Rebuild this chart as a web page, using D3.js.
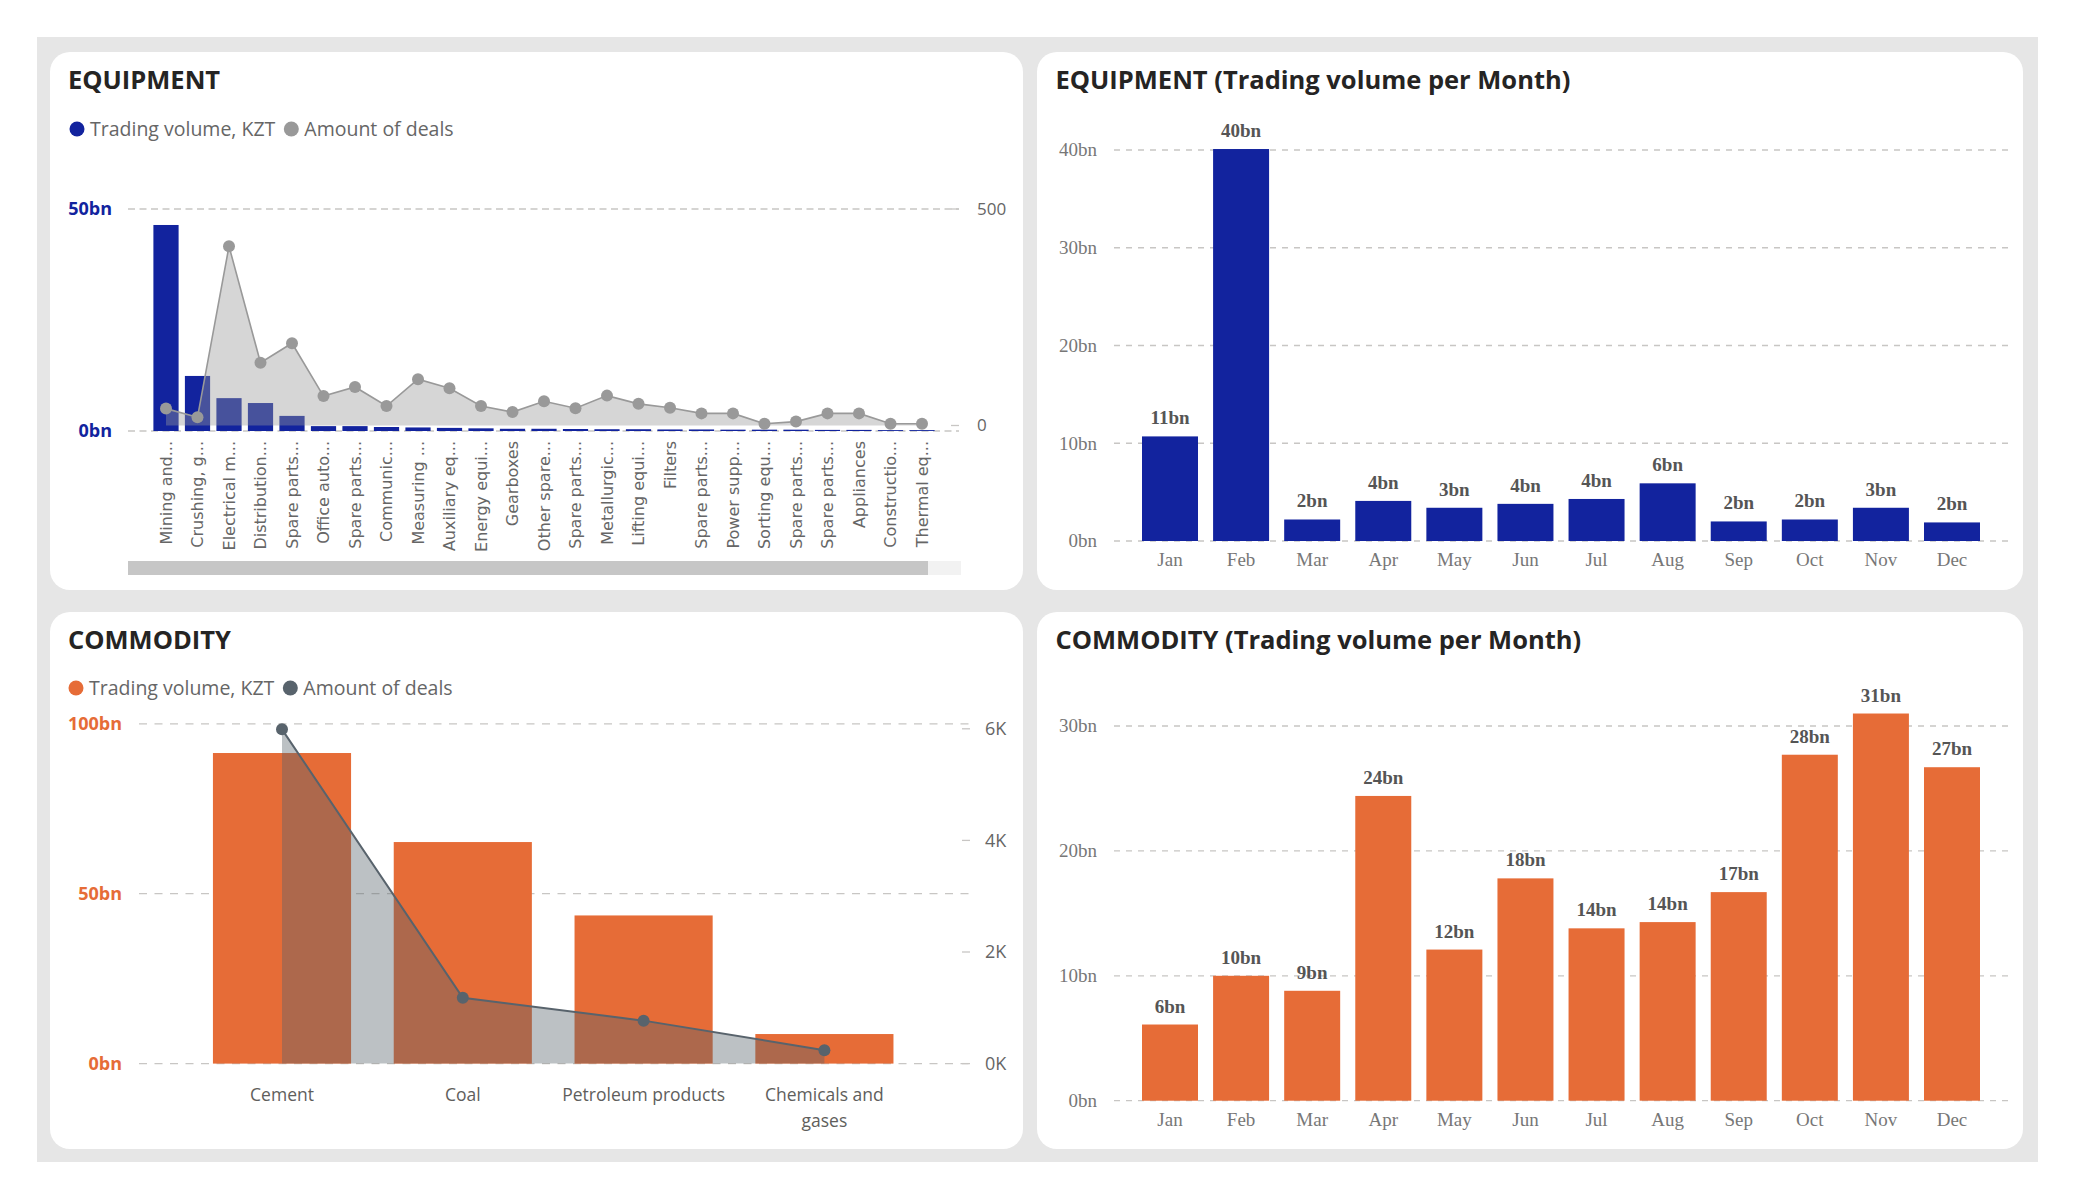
<!DOCTYPE html>
<html><head><meta charset="utf-8">
<script src="https://cdn.jsdelivr.net/npm/d3@7"></script>
<style>body{margin:0;background:#fff;} svg{display:block}</style>
</head><body>
<svg id="c" width="2075" height="1200"></svg>
<script>
// ---------------- DATA ----------------
const equipCategories = ["Mining and...","Crushing, g...","Electrical m...","Distribution...","Spare parts...","Office auto...","Spare parts...","Communic...","Measuring ...","Auxiliary eq...","Energy equi...","Gearboxes","Other spare...","Spare parts...","Metallurgic...","Lifting equi...","Filters","Spare parts...","Power supp...","Sorting equ...","Spare parts...","Spare parts...","Appliances","Constructio...","Thermal eq..."];
const equipVolumeBn = [46.4,12.4,7.4,6.3,3.4,1.1,1.1,0.9,0.8,0.7,0.6,0.5,0.5,0.45,0.4,0.4,0.35,0.35,0.3,0.3,0.3,0.25,0.25,0.2,0.2];
const equipDeals = [39,19,414,145,190,68,89,45,107,86,45,31,56,40,69,50,41,28,28,4,9,28,28,4,4];
const equipLeftTicks = [0,50];
const equipRightTicks = [0,500];

const months = ["Jan","Feb","Mar","Apr","May","Jun","Jul","Aug","Sep","Oct","Nov","Dec"];
const equipMonthlyBn = [10.7,40.1,2.2,4.1,3.4,3.8,4.3,5.9,2.0,2.2,3.4,1.9];
const equipMonthlyTicks = [0,10,20,30,40];
const commodityMonthlyBn = [6.1,10.0,8.8,24.4,12.1,17.8,13.8,14.3,16.7,27.7,31.0,26.7];
const commodityMonthlyTicks = [0,10,20,30];

const commodityCategories = ["Cement","Coal","Petroleum products","Chemicals and gases"];
const commodityVolumeBn = [91.4,65.2,43.6,8.7];
const commodityDeals = [5990,1180,770,240];
const commodityLeftTicks = [0,50,100];
const commodityRightTicks = [0,2000,4000,6000];

const legendLabels = ["Trading volume, KZT","Amount of deals"];

// ---------------- STYLE ----------------
const NAVY = "#12239E", ORANGE = "#E66C37", GRAYS = "#999999", SLATE = "#58636c";
const SANS = "'Open Sans', 'Noto Sans', sans-serif";
const TITLEF = "'Open Sans', 'Noto Sans', sans-serif";
const SERIF = "'Liberation Serif', serif";
const GRID = "#c8c6c4";

const svg = d3.select("#c");
svg.append("rect").attr("x",37).attr("y",37).attr("width",2001).attr("height",1125).attr("fill","#e6e6e6");
const panels = [[50,52,973,538],[1037,52,986,538],[50,612,973,537],[1037,612,986,537]];
svg.selectAll("rect.panel").data(panels).join("rect").attr("class","panel")
  .attr("x",d=>d[0]).attr("y",d=>d[1]).attr("width",d=>d[2]).attr("height",d=>d[3])
  .attr("rx",20).attr("ry",20).attr("fill","#fff");

function title(x,y,t){
  svg.append("text").attr("x",x).attr("y",y).text(t)
    .attr("font-family",TITLEF).attr("font-weight",700).attr("font-size",25.5).attr("fill","#252423");
}
function legend(x,y,colors){
  const g = svg.append("g");
  let cx = x;
  legendLabels.forEach((lab,i)=>{
    g.append("circle").attr("cx",cx).attr("cy",y).attr("r",7.5).attr("fill",colors[i]);
    const t = g.append("text").attr("x",cx+13).attr("y",y).attr("dy","0.35em").text(lab)
      .attr("font-family",SANS).attr("font-size",19.5).attr("fill","#666");
    cx = cx + 13 + t.node().getComputedTextLength() + 16;
  });
}
function grid(g, scale, ticks, x0, x1, dash){
  g.selectAll(null).data(ticks).join("line")
    .attr("x1",x0).attr("x2",x1).attr("y1",d=>scale(d)).attr("y2",d=>scale(d))
    .attr("stroke",GRID).attr("stroke-width",1.3).attr("stroke-dasharray",dash);
}

// ================= TOP LEFT: EQUIPMENT =================
title(68,88.5,"EQUIPMENT");
legend(77,129,[NAVY,GRAYS]);
{
  const g = svg.append("g");
  const idx = d3.range(equipCategories.length);
  const x = d3.scaleBand().domain(idx).range([150.25,937.75]).paddingInner(0.2).paddingOuter(0.1);
  const y = d3.scaleLinear().domain([0,50]).range([431,209]);
  const yr = d3.scaleLinear().domain([0,500]).range([425.5,209]);
  grid(g,y,equipLeftTicks,128,959,"7,4.5");
  g.selectAll(null).data(equipLeftTicks).join("text")
    .attr("x",112).attr("y",d=>y(d)).attr("dy","0.35em").attr("text-anchor","end")
    .text(d=>d+"bn").attr("font-family",SANS).attr("font-weight",700).attr("font-size",18).attr("fill",NAVY);
  g.selectAll(null).data(equipRightTicks).join("line")
    .attr("x1",951).attr("x2",959).attr("y1",d=>yr(d)).attr("y2",d=>yr(d)).attr("stroke",GRID).attr("stroke-width",1.3);
  g.selectAll(null).data(equipRightTicks).join("text")
    .attr("x",977).attr("y",d=>yr(d)).attr("dy","0.35em")
    .text(d=>d).attr("font-family",SANS).attr("font-size",17).attr("fill","#666");
  g.selectAll("rect.bar").data(equipVolumeBn).join("rect").attr("class","bar")
    .attr("x",(d,i)=>x(i)).attr("width",x.bandwidth())
    .attr("y",d=>y(d)).attr("height",d=>y(0)-y(d)).attr("fill",NAVY);
  const cx = i=>x(i)+x.bandwidth()/2;
  const area = d3.area().x((d,i)=>cx(i)).y0(yr(0)).y1(d=>yr(d));
  const line = d3.line().x((d,i)=>cx(i)).y(d=>yr(d));
  g.append("path").datum(equipDeals).attr("d",area).attr("fill",GRAYS).attr("fill-opacity",0.4);
  g.append("path").datum(equipDeals).attr("d",line).attr("fill","none").attr("stroke",GRAYS).attr("stroke-width",1.6);
  g.selectAll("circle.pt").data(equipDeals).join("circle").attr("class","pt")
    .attr("cx",(d,i)=>cx(i)).attr("cy",d=>yr(d)).attr("r",6).attr("fill",GRAYS);
  const ax = g.append("g").attr("transform","translate(0,441)")
    .call(d3.axisBottom(x).tickSize(0).tickFormat(i=>equipCategories[i]));
  ax.select(".domain").remove();
  ax.selectAll("text").attr("transform","rotate(-90)").attr("x",0).attr("y",0).attr("dy","0.35em")
    .attr("text-anchor","end").attr("font-family","'DejaVu Sans', sans-serif").attr("font-size",16).attr("fill","#666");
  g.append("rect").attr("x",128).attr("y",561).attr("width",833).attr("height",14).attr("fill","#f2f2f2");
  g.append("rect").attr("x",128).attr("y",561).attr("width",800).attr("height",14).attr("fill","#c6c6c6");
}

// ================= MONTHLY CHARTS =================
function monthly(values, ticks, color, y0px, ytop){
  const g = svg.append("g");
  const x = d3.scaleBand().domain(months).range([1134.45,1987.55]).paddingInner(0.2124).paddingOuter(0.1062);
  const y = d3.scaleLinear().domain([0,d3.max(ticks)]).range([y0px,ytop]);
  grid(g,y,ticks,1114,2009,"6,6");
  g.selectAll(null).data(ticks).join("text")
    .attr("x",1097).attr("y",d=>y(d)).attr("dy","0.33em").attr("text-anchor","end")
    .text(d=>d+"bn").attr("font-family",SERIF).attr("font-size",19).attr("fill","#777");
  g.selectAll("rect.bar").data(values).join("rect").attr("class","bar")
    .attr("x",(d,i)=>x(months[i])).attr("width",x.bandwidth())
    .attr("y",d=>y(d)).attr("height",d=>y(0)-y(d)).attr("fill",color);
  g.selectAll("text.lbl").data(values).join("text").attr("class","lbl")
    .attr("x",(d,i)=>x(months[i])+x.bandwidth()/2).attr("y",d=>y(d)-12).attr("text-anchor","middle")
    .text(d=>Math.round(d)+"bn").attr("font-family",SERIF).attr("font-weight",700).attr("font-size",19).attr("fill","#555");
  const ax = g.append("g").attr("transform",`translate(0,${y0px})`)
    .call(d3.axisBottom(x).tickSize(0).tickPadding(0));
  ax.select(".domain").remove();
  ax.selectAll("text").attr("y",25).attr("dy",0).attr("font-family",SERIF).attr("font-size",19).attr("fill","#777");
}
title(1055.5,88.5,"EQUIPMENT (Trading volume per Month)");
monthly(equipMonthlyBn, equipMonthlyTicks, NAVY, 541, 150);
title(1055.5,648.5,"COMMODITY (Trading volume per Month)");
monthly(commodityMonthlyBn, commodityMonthlyTicks, ORANGE, 1100.7, 726);

// ================= BOTTOM LEFT: COMMODITY =================
title(68,648.5,"COMMODITY");
legend(76,688,[ORANGE,SLATE]);
{
  const g = svg.append("g");
  const x = d3.scaleBand().domain(commodityCategories).range([191.6,914.8]).paddingInner(0.236).paddingOuter(0.118);
  const y = d3.scaleLinear().domain([0,100]).range([1063.6,723.8]);
  const yr = d3.scaleLinear().domain([0,6000]).range([1063.6,728.8]);
  grid(g,y,commodityLeftTicks,139,971,"8,7.5");
  g.selectAll(null).data(commodityLeftTicks).join("text")
    .attr("x",122).attr("y",d=>y(d)).attr("dy","0.35em").attr("text-anchor","end")
    .text(d=>d+"bn").attr("font-family",SANS).attr("font-weight",700).attr("font-size",18).attr("fill",ORANGE);
  g.selectAll(null).data(commodityRightTicks).join("line")
    .attr("x1",962).attr("x2",970).attr("y1",d=>yr(d)).attr("y2",d=>yr(d)).attr("stroke",GRID).attr("stroke-width",1.3);
  g.selectAll(null).data(commodityRightTicks).join("text")
    .attr("x",985).attr("y",d=>yr(d)).attr("dy","0.35em")
    .text(d=>(d/1000)+"K").attr("font-family",SANS).attr("font-size",18).attr("fill","#666");
  g.selectAll("rect.bar").data(commodityVolumeBn).join("rect").attr("class","bar")
    .attr("x",(d,i)=>x(commodityCategories[i])).attr("width",x.bandwidth())
    .attr("y",d=>y(d)).attr("height",d=>y(0)-y(d)).attr("fill",ORANGE);
  const cx = i=>x(commodityCategories[i])+x.bandwidth()/2;
  const area = d3.area().x((d,i)=>cx(i)).y0(yr(0)).y1(d=>yr(d));
  const line = d3.line().x((d,i)=>cx(i)).y(d=>yr(d));
  g.append("path").datum(commodityDeals).attr("d",area).attr("fill",SLATE).attr("fill-opacity",0.4);
  g.append("path").datum(commodityDeals).attr("d",line).attr("fill","none").attr("stroke",SLATE).attr("stroke-width",2);
  g.selectAll("circle.pt").data(commodityDeals).join("circle").attr("class","pt")
    .attr("cx",(d,i)=>cx(i)).attr("cy",d=>yr(d)).attr("r",6).attr("fill",SLATE);
  const ax = g.append("g").attr("transform","translate(0,1063.6)")
    .call(d3.axisBottom(x).tickSize(0).tickPadding(0));
  ax.select(".domain").remove();
  ax.selectAll("text").each(function(d){
    const t = d3.select(this);
    t.text(null).attr("y",0).attr("dy",0).attr("font-family",SANS).attr("font-size",17.5).attr("fill","#605e5c");
    const words = d.split(" ");
    let lines = [], cur = "";
    const probe = t.append("tspan");
    words.forEach(w=>{
      const test = cur ? cur+" "+w : w;
      probe.text(test);
      if (probe.node().getComputedTextLength() > 166 && cur){ lines.push(cur); cur = w; }
      else cur = test;
    });
    lines.push(cur);
    probe.remove();
    lines.forEach((l,k)=>t.append("tspan").attr("x",0).attr("y",37.5+k*26).text(l));
  });
}
</script>
</body></html>
